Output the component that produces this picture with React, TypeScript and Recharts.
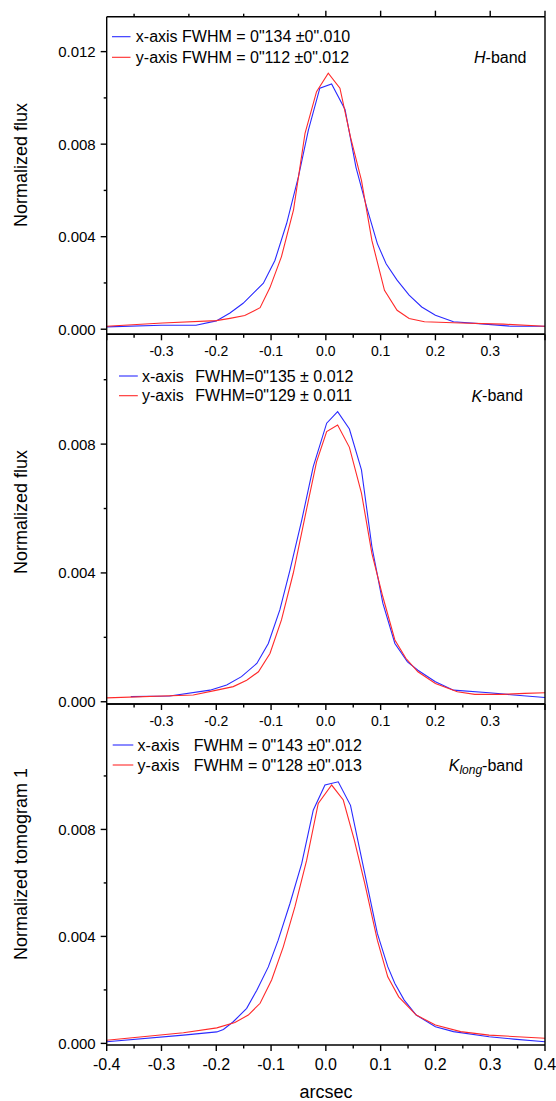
import { LineChart, Line, XAxis, YAxis } from "recharts";

// shared tick positions (arcsec / normalized flux)
const X_TICKS = [-0.4, -0.35, -0.3, -0.25, -0.2, -0.15, -0.1, -0.05, 0, 0.05, 0.1, 0.15, 0.2, 0.25, 0.3, 0.35, 0.4];
const Y_TICKS_H = [0, 0.002, 0.004, 0.006, 0.008, 0.01, 0.012];
const Y_TICKS_K = [0, 0.002, 0.004, 0.006, 0.008, 0.01];

// H-band
const H_X_POS = [-0.4, -0.3, -0.237, -0.2, -0.175, -0.151, -0.114, -0.093, -0.0715, -0.05, -0.032, -0.011, 0.0105, 0.035, 0.055, 0.0745, 0.094, 0.11, 0.13, 0.152, 0.175, 0.2, 0.233, 0.279, 0.337, 0.4];
const H_X_FLUX = [0.0001, 0.00017, 0.00017, 0.00036, 0.0007, 0.00112, 0.00199, 0.00297, 0.00458, 0.0066, 0.0086, 0.01042, 0.0106, 0.0095, 0.007, 0.00528, 0.0037, 0.00283, 0.00212, 0.00147, 0.00096, 0.0006, 0.00032, 0.00024, 0.00013, 0.00013];
const H_Y_POS = [-0.4, -0.298, -0.2, -0.175, -0.148, -0.12, -0.102, -0.081, -0.059, -0.038, -0.017, 0.0044, 0.0257, 0.045, 0.065, 0.084, 0.107, 0.13, 0.152, 0.18, 0.246, 0.324, 0.4];
const H_Y_FLUX = [0.00013, 0.00027, 0.00037, 0.00047, 0.00059, 0.00093, 0.0018, 0.00314, 0.00516, 0.00847, 0.01027, 0.01107, 0.01042, 0.0083, 0.00643, 0.00384, 0.00168, 0.00082, 0.00046, 0.00032, 0.00027, 0.00022, 0.00013];

// K-band
const K_X_POS = [-0.356, -0.285, -0.2115, -0.181, -0.154, -0.126, -0.105, -0.084, -0.0655, -0.044, -0.023, 0.0015, 0.0215, 0.043, 0.065, 0.084, 0.104, 0.126, 0.149, 0.168, 0.2, 0.233, 0.298, 0.343, 0.4];
const K_X_FLUX = [0.00016, 0.00018, 0.00036, 0.00052, 0.00078, 0.00119, 0.00181, 0.00285, 0.00409, 0.00564, 0.0073, 0.00865, 0.00901, 0.00847, 0.0072, 0.00482, 0.00306, 0.00181, 0.00124, 0.00098, 0.00062, 0.00036, 0.00028, 0.00021, 0.00013];
const K_Y_POS = [-0.4, -0.242, -0.199, -0.169, -0.1445, -0.123, -0.102, -0.081, -0.0595, -0.038, -0.017, 0.0015, 0.0215, 0.043, 0.065, 0.084, 0.104, 0.126, 0.146, 0.168, 0.2, 0.24, 0.272, 0.324, 0.363, 0.4];
const K_Y_FLUX = [0.00012, 0.00021, 0.00036, 0.00047, 0.00067, 0.00093, 0.0015, 0.00254, 0.00399, 0.00575, 0.00745, 0.00839, 0.00859, 0.0079, 0.00648, 0.00461, 0.00326, 0.00192, 0.00135, 0.00093, 0.00057, 0.00031, 0.00023, 0.00023, 0.00026, 0.00028];

// Klong-band (tomogram 1)
const KL_X_POS = [-0.4, -0.26, -0.199, -0.187, -0.169, -0.1445, -0.126, -0.105, -0.087, -0.0655, -0.044, -0.023, -0.0016, 0.0226, 0.045, 0.071, 0.094, 0.113, 0.126, 0.143, 0.165, 0.2, 0.233, 0.298, 0.343, 0.4];
const KL_X_FLUX = [0.00006, 0.00031, 0.00043, 0.00052, 0.00081, 0.00131, 0.00199, 0.00286, 0.00386, 0.00523, 0.00673, 0.00872, 0.00966, 0.00978, 0.0089, 0.00636, 0.00411, 0.00287, 0.00224, 0.00162, 0.00106, 0.00062, 0.00044, 0.00025, 0.00016, 0.00006];
const KL_Y_POS = [-0.4, -0.26, -0.199, -0.166, -0.1416, -0.12, -0.099, -0.0777, -0.0564, -0.035, -0.0139, 0.0106, 0.0318, 0.052, 0.071, 0.094, 0.113, 0.133, 0.165, 0.2, 0.246, 0.298, 0.4];
const KL_Y_FLUX = [0.00012, 0.0004, 0.00058, 0.00078, 0.00106, 0.0015, 0.00237, 0.00361, 0.00511, 0.00685, 0.00897, 0.00966, 0.0091, 0.0076, 0.00598, 0.00386, 0.00249, 0.00174, 0.00106, 0.00069, 0.00044, 0.00031, 0.00019];

const BLUE = "#2a2aff";
const RED = "#ff2a2a";
const FONT = "Arial, 'Liberation Sans', sans-serif";
const AXIS = { stroke: "#000", strokeWidth: 1.4 };

const toRows = (xs: number[], ys: number[]) => xs.map((x, i) => ({ x, v: ys[i] }));
const isMajorX = (v: number) => Math.abs(v * 10 - Math.round(v * 10)) < 1e-6;
const isMajorY = (v: number) => Math.abs(v / 0.004 - Math.round(v / 0.004)) < 1e-6;

function BottomTick(props: any) {
  const { x, y, payload, outer } = props;
  const v = payload.value;
  const major = isMajorX(v);
  const show = major && (outer || Math.abs(v) < 0.39);
  return (
    <g>
      <line x1={x} x2={x} y1={y} y2={y + (major ? 6 : 3.5)} {...AXIS} />
      {show && (
        <text x={x} y={y + (outer ? 19 : 17)} textAnchor="middle" dominantBaseline="central"
          fontSize={outer ? 16 : 14} fontFamily={FONT} fill="#000">
          {v.toFixed(1)}
        </text>
      )}
    </g>
  );
}

function TopTick(props: any) {
  const { x, y, payload } = props;
  const major = isMajorX(payload.value);
  return <line x1={x} x2={x} y1={y} y2={y - (major ? 6 : 3)} {...AXIS} />;
}

function LeftTick(props: any) {
  const { x, y, payload } = props;
  const v = payload.value;
  const major = isMajorY(v);
  return (
    <g>
      <line x1={x - (major ? 6 : 3)} x2={x} y1={y} y2={y} {...AXIS} />
      {major && (
        <text x={x - 11} y={y} textAnchor="end" dominantBaseline="central" fontSize={15} fontFamily={FONT} fill="#000">
          {v.toFixed(3)}
        </text>
      )}
    </g>
  );
}

type PanelProps = {
  top: number;
  height: number;
  topAxisH: number;
  bottomAxisH: number;
  domain: [number, number];
  yTicks: number[];
  blue: { x: number; v: number }[];
  red: { x: number; v: number }[];
  topTicks?: boolean;
  outer?: boolean;
};

function Panel({ top, height, topAxisH, bottomAxisH, domain, yTicks, blue, red, topTicks, outer }: PanelProps) {
  return (
    <div style={{ position: "absolute", left: 0, top }}>
      <LineChart width={556} height={height} margin={{ top: 0, right: 10, bottom: 0, left: 6.7 }}>
        <XAxis xAxisId="t" orientation="top" type="number" dataKey="x" domain={[-0.4, 0.4]} ticks={X_TICKS}
          height={topAxisH} axisLine={AXIS} tickLine={false} tickSize={0} tickMargin={0}
          tick={topTicks ? (p: any) => <TopTick {...p} /> : false} allowDataOverflow />
        <XAxis xAxisId="b" orientation="bottom" type="number" dataKey="x" domain={[-0.4, 0.4]} ticks={X_TICKS}
          height={bottomAxisH} axisLine={AXIS} tickLine={false} tickSize={0} tickMargin={0}
          tick={(p: any) => <BottomTick {...p} outer={outer} />} interval={0} allowDataOverflow />
        <YAxis yAxisId="l" orientation="left" type="number" domain={domain} ticks={yTicks} width={100}
          axisLine={AXIS} tickLine={false} tickSize={0} tickMargin={0}
          tick={(p: any) => <LeftTick {...p} />} interval={0} allowDataOverflow />
        <YAxis yAxisId="r" orientation="right" type="number" domain={domain} width={1}
          axisLine={AXIS} tick={false} tickLine={false} allowDataOverflow />
        <Line xAxisId="b" yAxisId="l" data={blue} dataKey="v" type="linear" stroke={BLUE} strokeWidth={1.1}
          dot={false} isAnimationActive={false} />
        <Line xAxisId="b" yAxisId="l" data={red} dataKey="v" type="linear" stroke={RED} strokeWidth={1.1}
          dot={false} isAnimationActive={false} />
      </LineChart>
    </div>
  );
}

function Overlay() {
  const t = { fontFamily: FONT, fill: "#000" };
  return (
    <svg width={556} height={1101} style={{ position: "absolute", left: 0, top: 0, pointerEvents: "none" }}>
      {/* H-band legend */}
      <line x1={112} x2={130.5} y1={36.7} y2={36.7} stroke={BLUE} strokeWidth={1.1} />
      <line x1={112} x2={130.5} y1={57.3} y2={57.3} stroke={RED} strokeWidth={1.1} />
      <text {...t} x={135.8} y={36.7} fontSize={16} dominantBaseline="central">x-axis FWHM = 0"134 ±0".010</text>
      <text {...t} x={135.8} y={57.3} fontSize={16} dominantBaseline="central">y-axis FWHM = 0"112 ±0".012</text>
      <text {...t} x={526.5} y={57.3} fontSize={16} dominantBaseline="central" textAnchor="end">
        <tspan fontStyle="italic">H</tspan>-band
      </text>

      {/* K-band legend */}
      <line x1={119} x2={137.8} y1={376} y2={376} stroke={BLUE} strokeWidth={1.1} />
      <line x1={119} x2={137.8} y1={395.7} y2={395.7} stroke={RED} strokeWidth={1.1} />
      <text {...t} x={142} y={376} fontSize={16} dominantBaseline="central">x-axis</text>
      <text {...t} x={195.3} y={376} fontSize={16} dominantBaseline="central">FWHM=0"135 ± 0.012</text>
      <text {...t} x={142} y={395.7} fontSize={16} dominantBaseline="central">y-axis</text>
      <text {...t} x={195.3} y={395.7} fontSize={16} dominantBaseline="central">FWHM=0"129 ± 0.011</text>
      <text {...t} x={523} y={395.7} fontSize={16} dominantBaseline="central" textAnchor="end">
        <tspan fontStyle="italic">K</tspan>-band
      </text>

      {/* Klong-band legend */}
      <line x1={112.7} x2={133.3} y1={745} y2={745} stroke={BLUE} strokeWidth={1.1} />
      <line x1={112.7} x2={133.3} y1={765} y2={765} stroke={RED} strokeWidth={1.1} />
      <text {...t} x={137.6} y={745} fontSize={16} dominantBaseline="central">x-axis</text>
      <text {...t} x={193.7} y={745} fontSize={16} dominantBaseline="central">FWHM = 0"143 ±0".012</text>
      <text {...t} x={137.6} y={765} fontSize={16} dominantBaseline="central">y-axis</text>
      <text {...t} x={193.7} y={765} fontSize={16} dominantBaseline="central">FWHM = 0"128 ±0".013</text>
      <text {...t} x={523} y={765} fontSize={16} dominantBaseline="central" textAnchor="end">
        <tspan fontStyle="italic">K</tspan>
        <tspan fontStyle="italic" fontSize={12} dy={5}>long</tspan>
        <tspan dy={-5}>-band</tspan>
      </text>

      {/* axis titles */}
      <text {...t} fontSize={18} textAnchor="middle" dominantBaseline="central" transform="translate(20.5,165) rotate(-90)">Normalized flux</text>
      <text {...t} fontSize={18} textAnchor="middle" dominantBaseline="central" transform="translate(20.5,512) rotate(-90)">Normalized flux</text>
      <text {...t} fontSize={18} textAnchor="middle" dominantBaseline="central" transform="translate(20.5,864) rotate(-90)">Normalized tomogram 1</text>
      <text {...t} x={325.9} y={1092} fontSize={18} textAnchor="middle" dominantBaseline="central">arcsec</text>
    </svg>
  );
}

export default function App() {
  return (
    <div style={{ position: "absolute", left: 0, top: 0, width: 556, height: 1101, background: "#fff", overflow: "hidden" }}>
      <Panel top={0} height={370} topAxisH={16.7} bottomAxisH={35.7} domain={[-0.00022, 0.01351]}
        yTicks={Y_TICKS_H} blue={toRows(H_X_POS, H_X_FLUX)} red={toRows(H_Y_POS, H_Y_FLUX)} topTicks />
      <Panel top={320} height={420} topAxisH={14.3} bottomAxisH={36} domain={[-0.00007, 0.01141]}
        yTicks={Y_TICKS_K} blue={toRows(K_X_POS, K_X_FLUX)} red={toRows(K_Y_POS, K_Y_FLUX)} />
      <Panel top={690} height={411} topAxisH={14} bottomAxisH={56} domain={[-0.00006, 0.01269]}
        yTicks={Y_TICKS_K} blue={toRows(KL_X_POS, KL_X_FLUX)} red={toRows(KL_Y_POS, KL_Y_FLUX)} outer />
      <Overlay />
    </div>
  );
}
